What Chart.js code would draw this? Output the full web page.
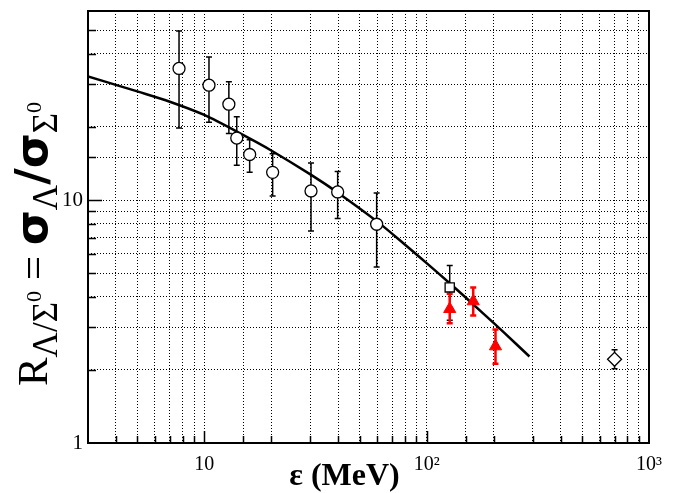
<!DOCTYPE html>
<html><head><meta charset="utf-8">
<script src="https://cdn.jsdelivr.net/npm/chart.js@4/dist/chart.umd.min.js"></script>
<style>html,body{margin:0;padding:0;background:#fff}#wrap{width:687px;height:493px;position:relative}</style>
</head><body><div id="wrap"><canvas id="c"></canvas></div>
<script>
// ---- data ----
const curveE = [3, 4, 5, 7, 10, 15, 20, 30, 40, 60, 80, 100, 130, 160, 200, 250, 290];
const curveR = [32.3, 29.8, 28.0, 25.4, 22.4, 18.5, 16.0, 12.75, 10.7, 8.15, 6.55, 5.50, 4.46, 3.76, 3.12, 2.58, 2.27];

const circleE  = [7.7, 10.5, 12.9, 14.0, 16.0, 20.3, 30.2, 39.8, 59.6];
const circleR  = [34.8, 29.7, 24.8, 18.0, 15.4, 13.0, 10.9, 10.8, 7.95];
const circleHi = [49.6, 38.8, 30.7, 22.0, 17.7, 15.5, 14.2, 13.1, 10.7];
const circleLo = [19.8, 20.9, 18.8, 13.9, 13.0, 10.4, 7.46, 8.4, 5.3];

const squareE  = [127];
const squareR  = [4.37];
const squareHi = [5.38];
const squareLo = [3.2];

const triE  = [127, 162, 204];
const triR  = [3.56, 3.83, 2.50];
const triHi = [4.11, 4.37, 2.93];
const triLo = [3.11, 3.35, 2.12];

const diamondE  = [700];
const diamondR  = [2.21];
const diamondHi = [2.42];
const diamondLo = [2.02];

const xTickLabels = {1: '10', 2: '10²', 3: '10³'};
const yTickLabels = {0: '1', 1: '10'};

const xTitle = 'ε (MeV)';
const yTitleParts = [
  {t: 'R', f: '43px "Liberation Serif"', dy: 0},
  {t: 'Λ/Σ', f: '35px "Liberation Serif"', dy: 10},
  {t: '0', f: '22px "Liberation Serif"', dy: -6},
  {t: ' = ', f: '43px "Liberation Serif"', dy: 0},
  {t: 'σ', f: 'bold 45px "DejaVu Sans"', dy: 0},
  {t: 'Λ', f: '35px "Liberation Serif"', dy: 10},
  {t: '/', f: 'bold 45px "DejaVu Sans"', dy: 0},
  {t: 'σ', f: 'bold 45px "DejaVu Sans"', dy: 0},
  {t: 'Σ', f: '35px "Liberation Serif"', dy: 10},
  {t: '0', f: '22px "Liberation Serif"', dy: -6}
];

const pts = (xs, ys) => xs.map((x, i) => ({x: x, y: ys[i]}));
const isDecade = v => { const l = Math.log10(v); return Math.abs(l - Math.round(l)) < 1e-6 ? Math.round(l) : null; };

const errorBars = {
  id: 'errorBars',
  beforeDatasetsDraw(chart) {
    const {ctx, scales: {x, y}} = chart;
    ctx.save();
    chart.data.datasets.forEach(ds => {
      if (!ds.errHi) return;
      ctx.strokeStyle = ds.errColor;
      ctx.lineWidth = ds.errWidth;
      ds.data.forEach((p, i) => {
        const px = x.getPixelForValue(p.x);
        const yh = y.getPixelForValue(ds.errHi[i]);
        const yl = y.getPixelForValue(ds.errLo[i]);
        ctx.beginPath();
        ctx.moveTo(px, yh); ctx.lineTo(px, yl);
        ctx.moveTo(px - 3, yh); ctx.lineTo(px + 3, yh);
        ctx.moveTo(px - 3, yl); ctx.lineTo(px + 3, yl);
        ctx.stroke();
      });
    });
    ctx.restore();
  }
};

const frame = {
  id: 'frame',
  afterDraw(chart) {
    const {ctx, chartArea: a, scales: {x, y}} = chart;
    ctx.save();
    ctx.strokeStyle = '#000';
    ctx.lineWidth = 1.5;
    ctx.beginPath();
    x.ticks.forEach(t => {
      if (t.value <= x.min || t.value >= x.max) return;
      const px = Math.round(x.getPixelForValue(t.value)) + 0.5;
      const len = isDecade(t.value) !== null ? 12 : 7;
      ctx.moveTo(px, a.bottom); ctx.lineTo(px, a.bottom - len);
    });
    y.ticks.forEach(t => {
      if (t.value <= y.min || t.value >= y.max) return;
      const py = Math.round(y.getPixelForValue(t.value)) + 0.5;
      const len = isDecade(t.value) !== null ? 14 : 8;
      ctx.moveTo(a.left, py); ctx.lineTo(a.left + len, py);
    });
    ctx.stroke();
    ctx.lineWidth = 2;
    ctx.strokeRect(a.left, a.top, a.right - a.left, a.bottom - a.top);
    // y title
    ctx.fillStyle = '#000';
    ctx.textBaseline = 'alphabetic';
    ctx.textAlign = 'left';
    let total = 0;
    yTitleParts.forEach(p => { ctx.font = p.f; total += ctx.measureText(p.t).width; });
    ctx.translate(47, 244);
    ctx.rotate(-Math.PI / 2);
    let cx = -total / 2;
    yTitleParts.forEach(p => {
      ctx.font = p.f;
      ctx.fillText(p.t, cx, p.dy);
      cx += ctx.measureText(p.t).width;
    });
    ctx.restore();
  }
};

const noPad = s => { s.paddingTop = 0; s.paddingBottom = 0; s.paddingLeft = 0; s.paddingRight = 0; };

new Chart(document.getElementById('c'), {
  type: 'scatter',
  data: {
    datasets: [
      {label: 'Λ/Σ0 data', data: pts(circleE, circleR), errHi: circleHi, errLo: circleLo, errColor: '#000', errWidth: 1.5,
       pointStyle: 'circle', pointRadius: 6, borderColor: '#000', backgroundColor: '#fff', borderWidth: 1.3, pointHoverRadius: 6},
      {label: 'square', data: pts(squareE, squareR), errHi: squareHi, errLo: squareLo, errColor: '#000', errWidth: 1.5,
       pointStyle: 'rect', pointRadius: 6.5, borderColor: '#000', backgroundColor: '#fff', borderWidth: 1.3},
      {label: 'triangles', data: pts(triE, triR), errHi: triHi, errLo: triLo, errColor: '#ff0000', errWidth: 2.5,
       pointStyle: 'triangle', pointRadius: 7, borderColor: '#ff0000', backgroundColor: '#ff0000', borderWidth: 1},
      {label: 'diamond', data: pts(diamondE, diamondR), errHi: diamondHi, errLo: diamondLo, errColor: '#000', errWidth: 1.5,
       pointStyle: 'rectRot', pointRadius: 7, borderColor: '#000', backgroundColor: '#fff', borderWidth: 1.3},
      {label: 'curve', data: pts(curveE, curveR), showLine: true, borderColor: '#000', borderWidth: 2.5,
       pointRadius: 0, tension: 0.3, fill: false}
    ]
  },
  options: {
    responsive: true,
    maintainAspectRatio: false,
    animation: false,
    devicePixelRatio: 1,
    layout: {padding: {top: 11, right: 38, left: 0, bottom: 0}},
    plugins: {legend: {display: false}, tooltip: {enabled: false}},
    scales: {
      x: {
        type: 'logarithmic', min: 3, max: 1000, position: 'bottom',
        afterFit: s => { s.height = 50; noPad(s); },
        grid: {color: '#000', lineWidth: 1, drawTicks: false},
        border: {display: false, dash: [1, 2]},
        ticks: {autoSkip: false, maxRotation: 0, padding: 10, color: '#000',
                font: {family: 'Liberation Serif', size: 20},
                callback: v => { const d = isDecade(v); return d !== null && xTickLabels[d] ? xTickLabels[d] : ''; }},
        title: {display: true, text: xTitle + '      ', color: '#000', font: {family: 'Liberation Serif', size: 32, weight: 'bold', lineHeight: 1}, padding: {top: 0, bottom: 0}}
      },
      y: {
        type: 'logarithmic', min: 1, max: 60, position: 'left',
        afterFit: s => { s.width = 88; noPad(s); },
        grid: {color: '#000', lineWidth: 1, drawTicks: false},
        border: {display: false, dash: [1, 2]},
        ticks: {autoSkip: false, padding: 5, color: '#000',
                font: {family: 'Liberation Serif', size: 21},
                callback: v => { const d = isDecade(v); return d !== null && yTickLabels[d] ? yTickLabels[d] : ''; }}
      }
    }
  },
  plugins: [errorBars, frame]
});
</script>
</body></html>
